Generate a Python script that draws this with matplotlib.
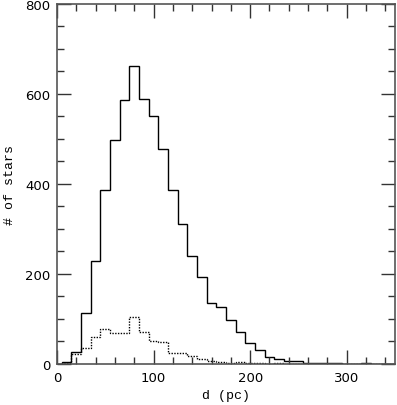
#!/usr/bin/env python3

# Distance histogram of the star sample (solid) and sub-sample (dotted)

# %%
import numpy as np
import matplotlib
matplotlib.use("Agg")
import matplotlib.pyplot as plt
from matplotlib.ticker import MultipleLocator

# %%
# bin edges: 10 pc bins starting at 5 pc
bin_start = 5
bin_width = 10

all_stars = [5, 27, 113, 228, 386, 498, 586, 661, 589, 550, 477, 387, 311,
             240, 194, 135, 126, 98, 70, 46, 30, 15, 11, 7, 7, 2, 3, 3, 2,
             1, 1, 3, 1, 1, 0]

sub_sample = [3, 22, 36, 59, 78, 68, 68, 105, 70, 52, 48, 24, 24, 17, 11,
              6, 4, 3, 4, 2, 3, 1, 2, 1, 1, 0, 0, 0, 0, 0, 0, 0, 0, 0, 0]

x_ticks = [0, 100, 200, 300]
y_ticks = [0, 200, 400, 600, 800]


# %%
def main():
    edges = bin_start + bin_width * np.arange(len(all_stars) + 1)

    fig = plt.figure(figsize=(3.97, 4.06), dpi=100)
    ax = fig.add_axes([0.1436, 0.101, 0.8515, 0.887])

    ax.stairs(all_stars, edges, color="black", linewidth=1.0, baseline=0)
    ax.stairs(sub_sample, edges, color="black", linewidth=1.0,
              linestyle=(0, (1, 1)), baseline=0)
    # first little piece along zero
    ax.plot([0, bin_start], [0, 0], color="black", linewidth=1.0)

    ax.set_xlim(0, 350)
    ax.set_ylim(0, 800)
    ax.set_xticks(x_ticks)
    ax.set_yticks(y_ticks)
    ax.xaxis.set_minor_locator(MultipleLocator(20))
    ax.yaxis.set_minor_locator(MultipleLocator(50))

    ax.tick_params(which="both", direction="in", top=True, right=True,
                   labeltop=False, labelright=False, color="#333333")
    ax.tick_params(which="major", length=10, width=1.0, labelsize=9.5, pad=5)
    ax.tick_params(which="minor", length=5, width=1.0)
    for spine in ax.spines.values():
        spine.set_linewidth(1.2)
        spine.set_color("#555555")

    ax.set_xlabel("d (pc)", family="Liberation Mono", fontsize=9.5,
                  labelpad=4)
    ax.set_ylabel("# of stars", family="Liberation Mono", fontsize=9.5,
                  labelpad=6)

    fig.savefig("out.png", dpi=100)


# %%
if __name__ == "__main__":
    main()
